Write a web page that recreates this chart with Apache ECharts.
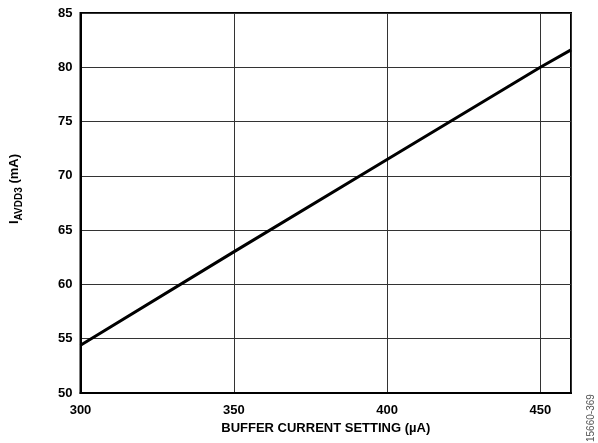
<!DOCTYPE html>
<html>
<head>
<meta charset="utf-8">
<script src="https://cdn.jsdelivr.net/npm/echarts@6/dist/echarts.min.js"></script>
<style>
html,body{margin:0;padding:0;background:#fff;}
#c{width:598px;height:443px;}
</style>
</head>
<body>
<div id="c"></div>
<script>
const bufferCurrent = [300, 350, 400, 450, 460];
const iAvdd3 = [54.4, 63.0, 71.5, 80.0, 81.6];
const xTicks = [300, 350, 400, 450];
const yTicks = [50, 55, 60, 65, 70, 75, 80, 85];

const font = '"Liberation Sans", Arial, sans-serif';
const chart = echarts.init(document.getElementById('c'), null, {renderer: 'canvas'});
chart.setOption({
  animation: false,
  backgroundColor: '#fff',
  grid: {left: 80, right: 27, top: 13, bottom: 50, show: true, borderColor: '#000', borderWidth: 2, backgroundColor: 'transparent'},
  xAxis: {
    type: 'value', min: 300, max: 460, interval: 50,
    name: 'BUFFER CURRENT SETTING (µA)', nameLocation: 'middle', nameGap: 28,
    nameTextStyle: {fontFamily: font, fontWeight: 'bold', fontSize: 13, color: '#000'},
    axisLine: {show: true, lineStyle: {color: '#000', width: 2}},
    axisTick: {show: false},
    axisLabel: {fontFamily: font, fontWeight: 'bold', fontSize: 13, color: '#000', margin: 11,
      showMaxLabel: false,
      formatter: v => xTicks.includes(v) ? String(v) : ''},
    splitLine: {show: true, lineStyle: {color: '#333', width: 1}}
  },
  yAxis: {
    type: 'value', min: 50, max: 85, interval: 5,
    name: '{a|I}{b|AVDD3}{a| (mA)}', nameLocation: 'middle', nameGap: 56, nameRotate: 90,
    nameTextStyle: {
      fontFamily: font, fontWeight: 'bold', color: '#000',
      padding: [0, 0, 0, 28],
      rich: {
        a: {fontFamily: font, fontWeight: 'bold', fontSize: 13, color: '#000', lineHeight: 20, verticalAlign: 'middle'},
        b: {fontFamily: font, fontWeight: 'bold', fontSize: 10, color: '#000', lineHeight: 10, verticalAlign: 'bottom'}
      }
    },
    axisLine: {show: true, lineStyle: {color: '#000', width: 2}},
    axisTick: {show: false},
    axisLabel: {fontFamily: font, fontWeight: 'bold', fontSize: 13, color: '#000', margin: 8,
      formatter: v => yTicks.includes(v) ? String(v) : ''},
    splitLine: {show: true, lineStyle: {color: '#333', width: 1}}
  },
  series: [{
    type: 'line', data: bufferCurrent.map((x, i) => [x, iAvdd3[i]]),
    showSymbol: false, lineStyle: {color: '#000', width: 3}, silent: true
  }],
  graphic: [{
    type: 'text', right: 2, bottom: 1, rotation: Math.PI / 2,
    style: {text: '15660-369', fontFamily: font, fontSize: 10, fill: '#555'}
  }]
});
</script>
</body>
</html>
